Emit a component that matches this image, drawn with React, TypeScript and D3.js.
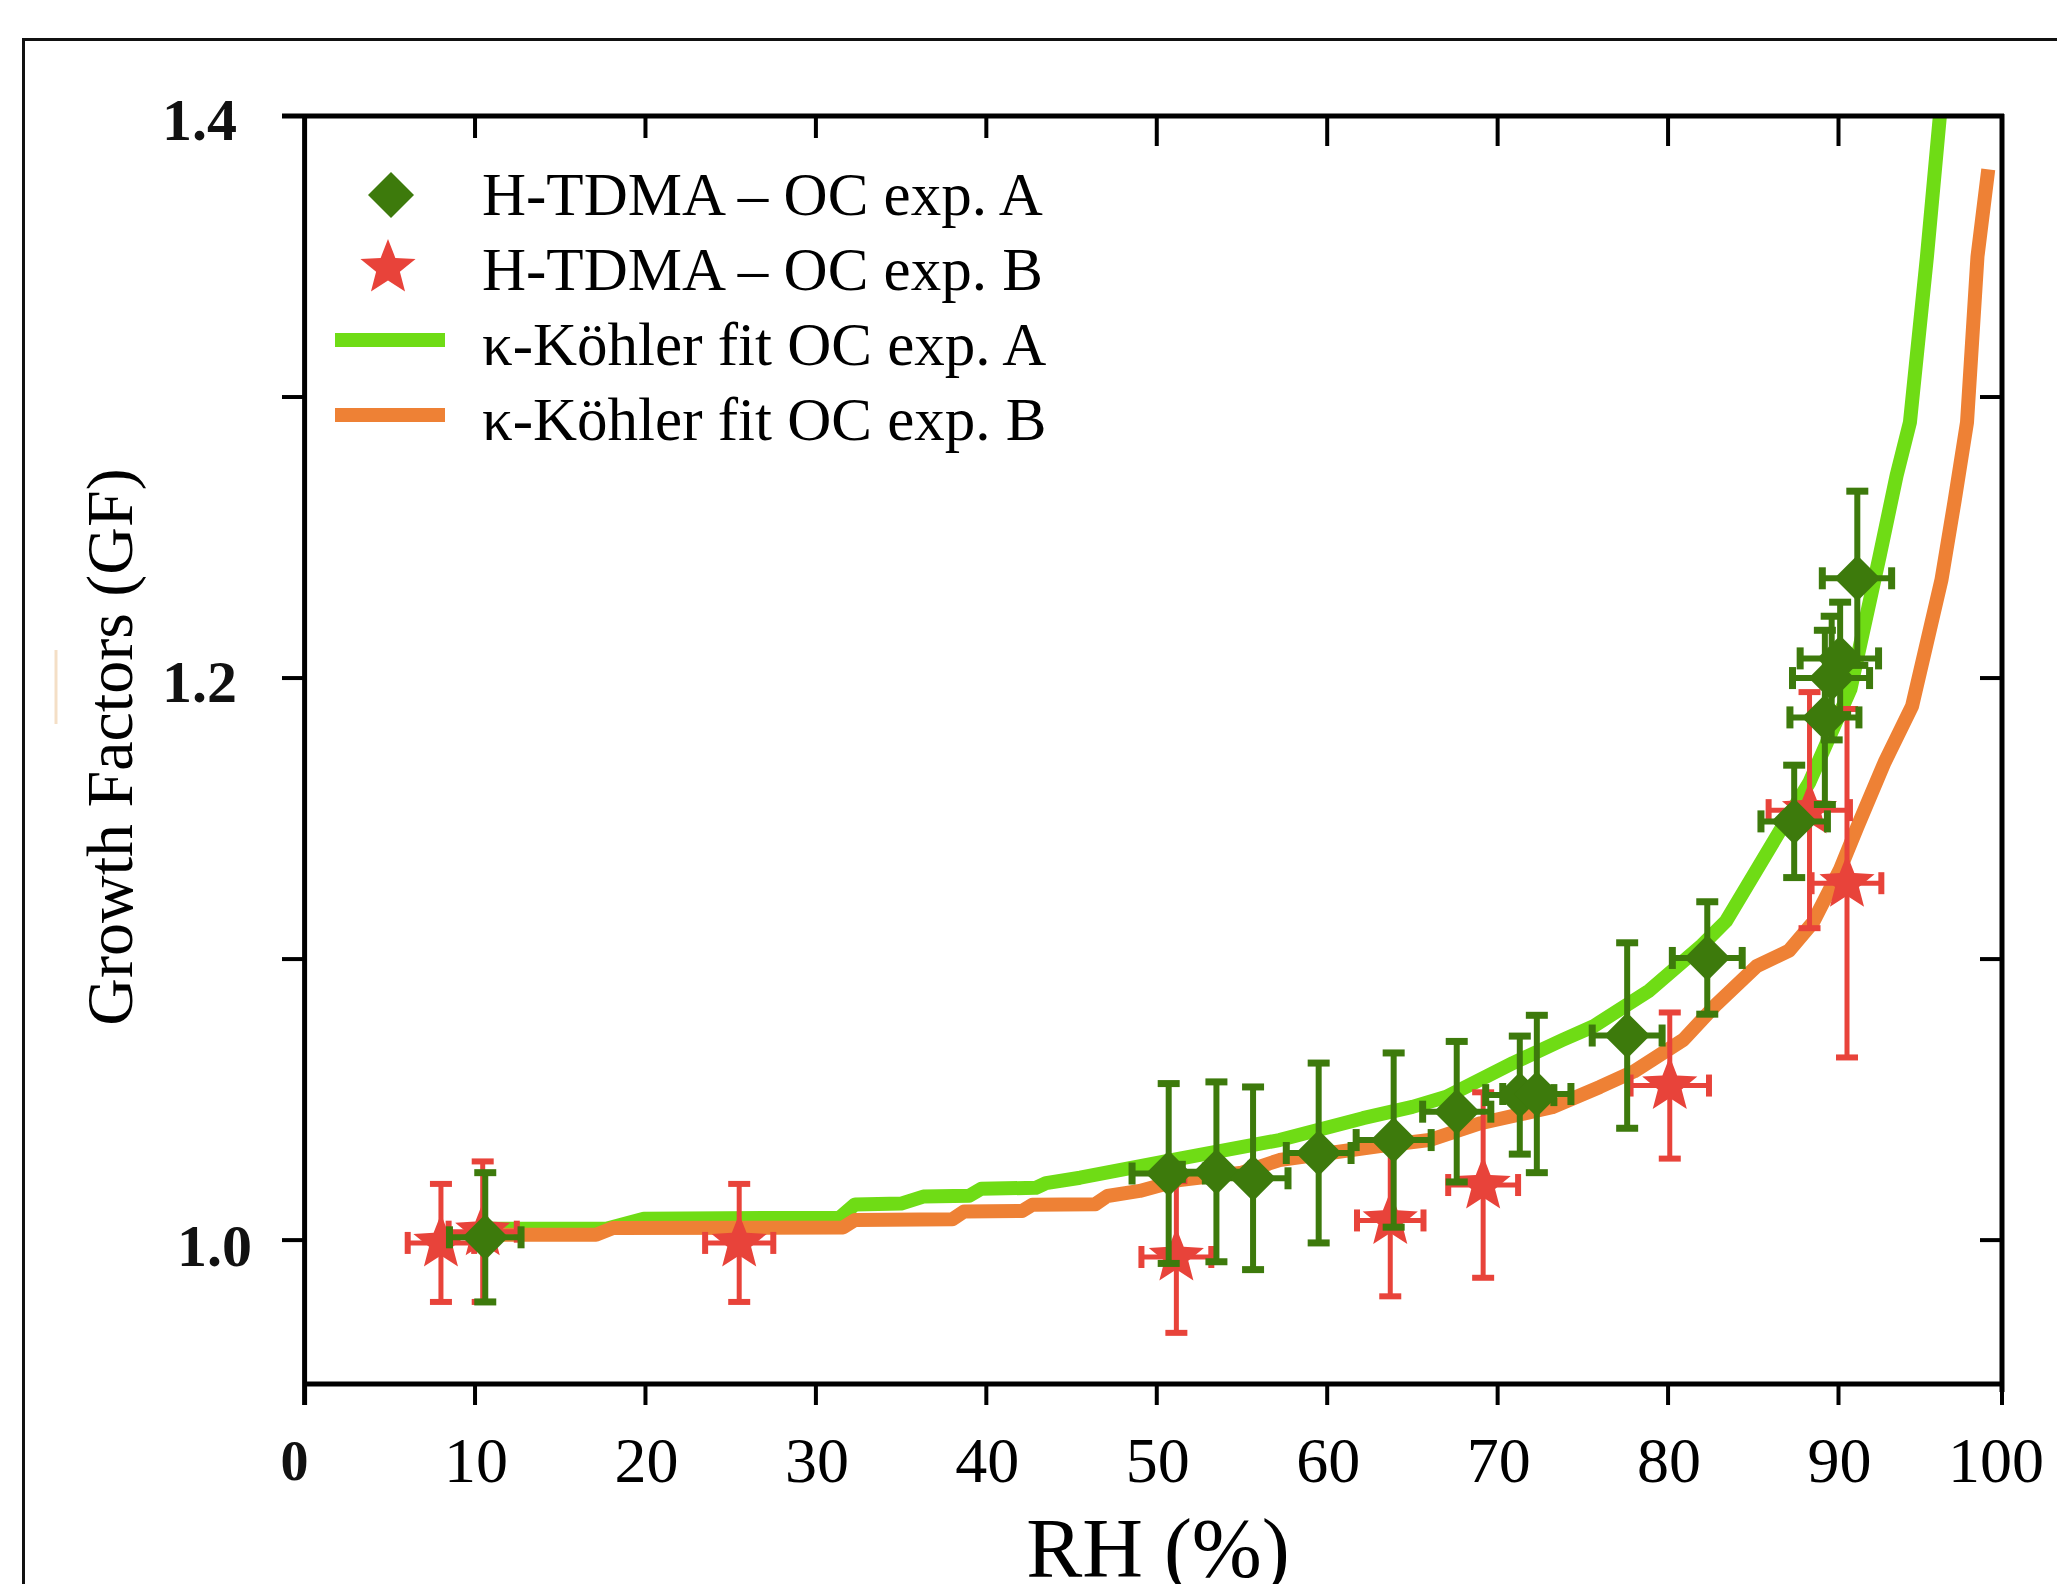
import React from 'react';
import * as d3 from 'd3';

// ---------- data ----------
const xTicks = [0, 10, 20, 30, 40, 50, 60, 70, 80, 90, 100];
const yTicksLabeled = [1.0, 1.2, 1.4];
const yTicksAll = [1.0, 1.1, 1.2, 1.3, 1.4];
const yTicksRight = [1.0, 1.1, 1.2, 1.3];

// H-TDMA – OC exp. A (green diamonds)
const expA_RH = [10.6, 50.7, 53.5, 55.65, 59.5, 63.9, 67.6, 71.3, 72.3, 77.6, 82.3, 87.4, 89.2, 89.6, 90.1, 91.15];
const expA_GF = [1.001, 1.0237, 1.0243, 1.022, 1.031, 1.0356, 1.0457, 1.0516, 1.052, 1.0728, 1.1004, 1.149, 1.186, 1.2, 1.207, 1.2355];
const expA_RHerr = [2.1, 2.15, 2.0, 2.05, 1.9, 2.2, 2.0, 2.0, 2.0, 2.05, 2.05, 1.95, 2.05, 2.3, 2.35, 2.1];
const expA_GFerr = [0.023, 0.032, 0.032, 0.0325, 0.032, 0.031, 0.025, 0.021, 0.028, 0.033, 0.02, 0.02, 0.031, 0.022, 0.02, 0.031];

// H-TDMA – OC exp. B (red stars)
const expB_RH = [8.0, 10.45, 25.5, 51.15, 63.7, 69.15, 80.1, 88.3, 90.52];
const expB_GF = [0.999, 1.003, 0.999, 0.994, 1.007, 1.0196, 1.055, 1.153, 1.127];
const expB_RHerr = [1.95, 2.0, 2.0, 2.05, 1.95, 2.05, 2.3, 2.4, 2.1];
const expB_GFerr = [0.021, 0.025, 0.021, 0.027, 0.027, 0.033, 0.026, 0.042, 0.062];

// κ-Köhler fit OC exp. A (light green)
const fitA_RH = [10.5, 17.7, 19.9, 31.4, 32.3, 35.0, 36.3, 39.0, 39.7, 42.9, 43.5, 45.5, 51.35, 57.2, 62.1, 65, 67, 70.9, 73.8, 75.6, 78.9, 82, 83.4, 86.7, 88.3, 90.73, 92.5, 93.55, 94.37, 95.41, 96.2];
const fitA_GF = [1.004, 1.004, 1.0076, 1.008, 1.0127, 1.013, 1.0155, 1.0158, 1.0183, 1.0186, 1.0203, 1.0222, 1.029, 1.0356, 1.0434, 1.0474, 1.051, 1.063, 1.0712, 1.076, 1.0888, 1.105, 1.1135, 1.147, 1.163, 1.196, 1.243, 1.272, 1.291, 1.35, 1.4];

// κ-Köhler fit OC exp. B (orange)
const fitB_RH = [10.5, 17.1, 18.1, 31.6, 32.3, 38.0, 38.7, 42.1, 42.7, 46.4, 47.1, 49, 51.35, 55, 57.2, 63.1, 66, 69, 73.2, 76, 78, 80.9, 82.85, 85.2, 87.1, 88.5, 90.1, 91.15, 92.82, 94.5, 95.5, 96.3, 97.1, 97.86, 98.5, 99.16];
const fitB_GF = [1.0019, 1.0019, 1.0043, 1.0045, 1.0072, 1.0074, 1.0102, 1.0104, 1.0126, 1.0128, 1.0157, 1.0175, 1.0214, 1.024, 1.0285, 1.0335, 1.0356, 1.0416, 1.0473, 1.0545, 1.06, 1.0713, 1.084, 1.0975, 1.103, 1.113, 1.132, 1.147, 1.17, 1.19, 1.215, 1.235, 1.263, 1.291, 1.35, 1.381];

const legendLabels = [
  'H-TDMA – OC exp. A',
  'H-TDMA – OC exp. B',
  'κ-Köhler fit OC exp. A',
  'κ-Köhler fit OC exp. B',
];

// ---------- styles ----------
const DARK_GREEN = '#3d7a0c';
const RED = '#e8433a';
const LIGHT_GREEN = '#6fdc15';
const ORANGE = '#ee8135';
const SERIF = '"Liberation Serif", "Times New Roman", serif';

function starPath(cx: number, cy: number, R: number, r: number) {
  const pts: string[] = [];
  for (let i = 0; i < 10; i++) {
    const a = -Math.PI / 2 + (i * Math.PI) / 5;
    const rad = i % 2 === 0 ? R : r;
    pts.push(`${cx + rad * Math.cos(a)},${cy + rad * Math.sin(a)}`);
  }
  return 'M' + pts.join('L') + 'Z';
}

function diamondPath(cx: number, cy: number, w: number, h: number) {
  return `M${cx},${cy - h}L${cx + w},${cy}L${cx},${cy + h}L${cx - w},${cy}Z`;
}

export default function App() {
  const left = 304.6;
  const right = 2002;
  const top = 116;
  const bottom = 1384;

  const x = d3.scaleLinear().domain([0, 90, 100]).range([left, 1838.5, right]);
  const y = d3.scaleLinear().domain([0.9488, 1.4]).range([bottom, top]);

  const line = d3
    .line<[number, number]>()
    .x((d) => x(d[0]))
    .y((d) => y(d[1]))
    .curve(d3.curveLinear);

  const fitA = fitA_RH.map((v, i) => [v, fitA_GF[i]] as [number, number]);
  const fitB = fitB_RH.map((v, i) => [v, fitB_GF[i]] as [number, number]);

  const errBars = (
    rh: number[],
    gf: number[],
    rhErr: number[],
    gfErr: number[],
    color: string,
    lw: number,
    capT: number,
    key: string
  ) =>
    rh.map((v, i) => {
      const cx = x(v);
      const cy = y(gf[i]);
      const y0 = y(gf[i] - gfErr[i]);
      const y1 = y(gf[i] + gfErr[i]);
      const x0 = x(v - rhErr[i]);
      const x1 = x(v + rhErr[i]);
      const cw = 11;
      return (
        <g key={`${key}${i}`} stroke={color} fill="none">
          <line x1={cx} x2={cx} y1={y0} y2={y1} strokeWidth={lw} />
          <line x1={cx - cw} x2={cx + cw} y1={y0} y2={y0} strokeWidth={capT} />
          <line x1={cx - cw} x2={cx + cw} y1={y1} y2={y1} strokeWidth={capT} />
          <line x1={x0} x2={x1} y1={cy} y2={cy} strokeWidth={lw} />
          <line x1={x0} x2={x0} y1={cy - cw} y2={cy + cw} strokeWidth={capT} />
          <line x1={x1} x2={x1} y1={cy - cw} y2={cy + cw} strokeWidth={capT} />
        </g>
      );
    });

  const axisW = 5;
  const tickW = 4;

  const yLabelX = (v: number) => (v === 1.0 ? 252 : 237);

  return (
    <svg
      width={2057}
      height={1584}
      viewBox="0 0 2057 1584"
      style={{ position: 'absolute', left: 0, top: 0, background: '#fff' }}
    >
      <rect x={0} y={0} width={2057} height={1584} fill="#fff" />
      {/* outer frame */}
      <rect x={23.5} y={39.5} width={2200} height={1700} fill="none" stroke="#111" strokeWidth={3} />
      {/* faint artifact */}
      <line x1={56} x2={56} y1={650} y2={724} stroke="#f4dfc6" strokeWidth={3} />

      {/* curves */}
      <path d={line(fitA) || ''} fill="none" stroke={LIGHT_GREEN} strokeWidth={14} strokeLinejoin="round" />
      <path d={line(fitB) || ''} fill="none" stroke={ORANGE} strokeWidth={14} strokeLinejoin="round" />

      {/* exp B */}
      {errBars(expB_RH, expB_GF, expB_RHerr, expB_GFerr, RED, 5, 6, 'be')}
      {expB_RH.map((v, i) => (
        <path key={`bs${i}`} d={starPath(x(v), y(expB_GF[i]), 29, 12.5)} fill={RED} />
      ))}

      {/* exp A */}
      {errBars(expA_RH, expA_GF, expA_RHerr, expA_GFerr, DARK_GREEN, 6, 7, 'ae')}
      {expA_RH.map((v, i) => (
        <path key={`ad${i}`} d={diamondPath(x(v), y(expA_GF[i]), 23, 23)} fill={DARK_GREEN} />
      ))}

      {/* axes frame */}
      <line x1={left} x2={left} y1={top - 2} y2={bottom + 21} stroke="#000" strokeWidth={axisW} />
      <line x1={right} x2={right} y1={top - 2} y2={bottom + 8} stroke="#000" strokeWidth={axisW} />
      <line x1={282} x2={right + 2} y1={top} y2={top} stroke="#000" strokeWidth={axisW} />
      <line x1={left} x2={right + 2} y1={bottom} y2={bottom} stroke="#000" strokeWidth={axisW} />

      {/* left ticks (outward) */}
      {yTicksAll.map((t) => (
        <line key={`lt${t}`} x1={282} x2={left} y1={y(t)} y2={y(t)} stroke="#000" strokeWidth={tickW} />
      ))}
      {/* right ticks (inward) */}
      {yTicksRight.map((t) => (
        <line key={`rt${t}`} x1={right - 22} x2={right} y1={y(t)} y2={y(t)} stroke="#000" strokeWidth={tickW} />
      ))}
      {/* top ticks (inward) */}
      {xTicks
        .filter((t) => t > 0 && t < 100)
        .map((t) => (
          <line key={`tt${t}`} x1={x(t)} x2={x(t)} y1={top} y2={top + (t < 50 ? 22 : 30)} stroke="#000" strokeWidth={tickW} />
        ))}
      {/* bottom ticks (outward) */}
      {xTicks
        .filter((t) => t > 0)
        .map((t) => (
          <line key={`bt${t}`} x1={x(t)} x2={x(t)} y1={bottom} y2={bottom + 21} stroke="#000" strokeWidth={tickW} />
        ))}

      {/* y tick labels */}
      {yTicksLabeled.map((t) => (
        <text
          key={`yl${t}`}
          x={yLabelX(t)}
          y={y(t) + (t === 1.0 ? 6 : 4)}
          textAnchor="end"
          dominantBaseline="central"
          fontFamily={SERIF}
          fontWeight="bold"
          fontSize={60}
          fill="#111"
        >
          {t.toFixed(1)}
        </text>
      ))}

      {/* x tick labels */}
      {xTicks.map((t) =>
        t === 0 ? (
          <text key="xl0" x={x(0) - 10} y={1480} textAnchor="middle" fontFamily={SERIF} fontWeight="bold" fontSize={56} fill="#111">
            {t}
          </text>
        ) : (
          <text
            key={`xl${t}`}
            x={t === 100 ? x(t) - 6 : x(t) + 1}
            y={1482}
            textAnchor="middle"
            fontFamily={SERIF}
            fontSize={64}
            fill="#000"
          >
            {t}
          </text>
        )
      )}

      {/* axis titles */}
      <text x={1158} y={1577} textAnchor="middle" fontFamily={SERIF} fontSize={84} fill="#000">
        RH (%)
      </text>
      <text
        transform={`translate(132, ${(top + bottom) / 2 - 3}) rotate(-90)`}
        textAnchor="middle"
        fontFamily={SERIF}
        fontSize={66}
        fill="#000"
      >
        Growth Factors (GF)
      </text>

      {/* legend */}
      <path d={diamondPath(391, 195, 23, 23)} fill={DARK_GREEN} />
      <path d={starPath(388, 268, 29, 12.5)} fill={RED} />
      <line x1={335} x2={445} y1={340} y2={340} stroke={LIGHT_GREEN} strokeWidth={14} />
      <line x1={335} x2={445} y1={415} y2={415} stroke={ORANGE} strokeWidth={14} />
      {legendLabels.map((l, i) => (
        <text key={`lg${i}`} x={482} y={215 + i * 75} fontFamily={SERIF} fontSize={61} fill="#000">
          {l}
        </text>
      ))}
    </svg>
  );
}
